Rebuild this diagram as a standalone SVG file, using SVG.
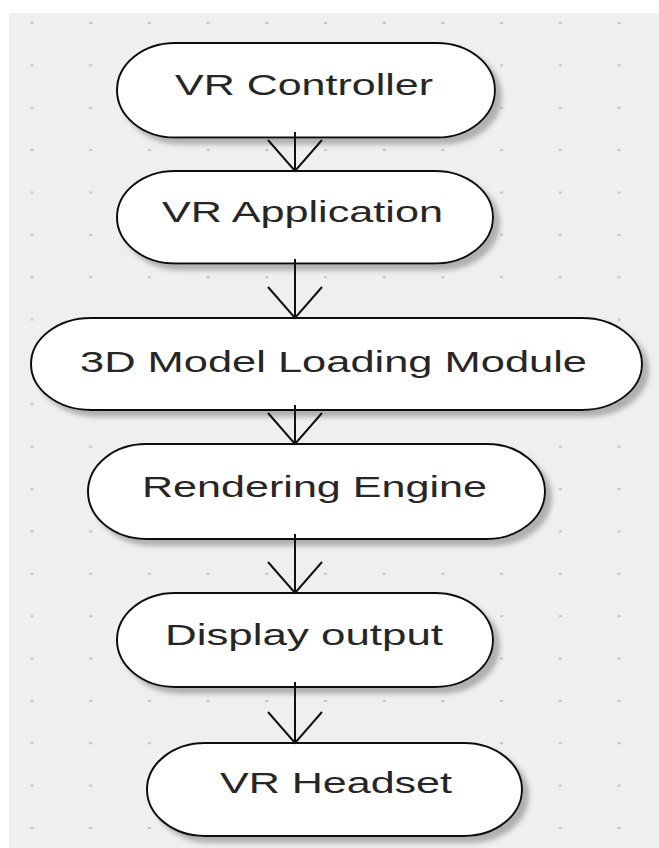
<svg xmlns="http://www.w3.org/2000/svg" width="659" height="848" viewBox="0 0 659 848">
  <style>
    .node { fill: #ffffff; stroke: #111111; stroke-width: 2; filter: url(#shadow); }
    .label { font-family: "Liberation Sans", Arial, sans-serif; font-size: 30px; fill: #262626; }
    .conn { fill: none; stroke: #111111; stroke-width: 2; marker-end: url(#arr); }
  </style>
  <defs>
    <pattern id="dots" x="30.5" y="22" width="58.7" height="42.37" patternUnits="userSpaceOnUse">
      <rect x="0" y="0" width="3" height="2" fill="#c2c2c2"/>
    </pattern>
    <filter id="shadow" x="-10%" y="-20%" width="130%" height="150%">
      <feOffset in="SourceAlpha" dx="6" dy="6" result="off"/>
      <feGaussianBlur in="off" stdDeviation="2.5" result="blur"/>
      <feFlood flood-color="#959595" flood-opacity="0.7"/>
      <feComposite in2="blur" operator="in" result="sh"/>
      <feMerge>
        <feMergeNode in="sh"/>
        <feMergeNode in="SourceGraphic"/>
      </feMerge>
    </filter>
    <marker id="arr" viewBox="-34 -30 37 60" refX="0" refY="0" markerWidth="37" markerHeight="60" markerUnits="userSpaceOnUse" orient="auto">
      <path d="M-31,-27 L0,0 L-31,27" fill="none" stroke="#111111" stroke-width="2"/>
    </marker>
  </defs>

  <rect x="0" y="0" width="659" height="848" fill="#ffffff"/>
  <rect x="9" y="13" width="650" height="835" fill="#efefef"/>
  <rect x="9" y="13" width="650" height="835" fill="url(#dots)"/>

  <g id="node-vr-controller">
    <path class="node" d="M175,43 H437 A58,47.25 0 0 1 437,137.5 H175 A58,47.25 0 0 1 175,43 Z"/>
    <text class="label" x="175" y="95" textLength="258" lengthAdjust="spacingAndGlyphs">VR Controller</text>
  </g>
  <g id="node-vr-application">
    <path class="node" d="M175,171 H435 A58,46.25 0 0 1 435,263.5 H175 A58,46.25 0 0 1 175,171 Z"/>
    <text class="label" x="162" y="222" textLength="281" lengthAdjust="spacingAndGlyphs">VR Application</text>
  </g>
  <g id="node-3d-model-loading">
    <path class="node" d="M91,318 H582 A60,46 0 0 1 582,410 H91 A60,46 0 0 1 91,318 Z"/>
    <text class="label" x="80" y="372" textLength="507" lengthAdjust="spacingAndGlyphs">3D Model Loading Module</text>
  </g>
  <g id="node-rendering-engine">
    <path class="node" d="M146,444 H487 A58,47.5 0 0 1 487,539 H146 A58,47.5 0 0 1 146,444 Z"/>
    <text class="label" x="142" y="497" textLength="345" lengthAdjust="spacingAndGlyphs">Rendering Engine</text>
  </g>
  <g id="node-display-output">
    <path class="node" d="M175,593 H435 A58,47 0 0 1 435,687 H175 A58,47 0 0 1 175,593 Z"/>
    <text class="label" x="165" y="645" textLength="278" lengthAdjust="spacingAndGlyphs">Display output</text>
  </g>
  <g id="node-vr-headset">
    <path class="node" d="M205,743 H464 A58,46.5 0 0 1 464,836 H205 A58,46.5 0 0 1 205,743 Z"/>
    <text class="label" x="220" y="793" textLength="232" lengthAdjust="spacingAndGlyphs">VR Headset</text>
  </g>

  <g id="connectors">
    <line class="conn" x1="295" y1="132" x2="295" y2="171"/>
    <line class="conn" x1="295" y1="259" x2="295" y2="318"/>
    <line class="conn" x1="295" y1="405" x2="295" y2="444"/>
    <line class="conn" x1="295" y1="534" x2="295" y2="593"/>
    <line class="conn" x1="295" y1="682" x2="295" y2="743"/>
  </g>
</svg>
